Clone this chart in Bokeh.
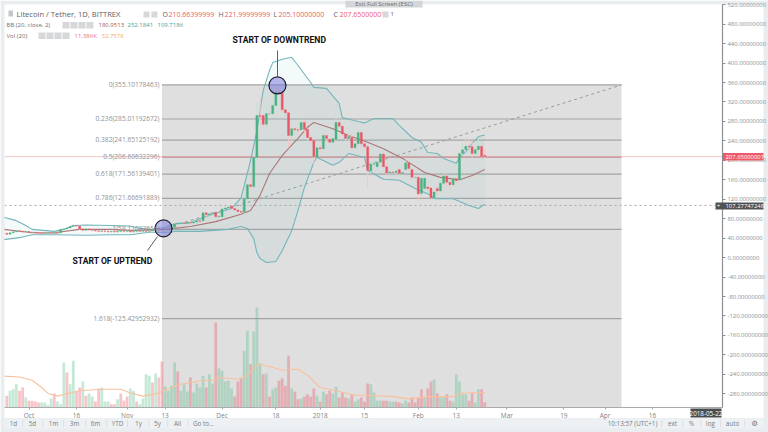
from bokeh.plotting import figure
from bokeh.embed import file_html
from bokeh.resources import INLINE
from bokeh.models import (Range1d, LinearAxis, FixedTicker, SingleIntervalTicker, NumeralTickFormatter,
                          Label, BoxAnnotation, ColumnDataSource)

# ---------- values ----------
START_DAY = -7  # days after 1 Oct 2017 of the first bar
OPEN = [50,48,51,53,55,54,53,53.5,52,52.5,
        51,50,49.5,50,50.5,50,50.5,51,58,59,
        61,64,66,65,59,56,59,57,56,55,
        54,55,54,53,54,53,54,55,54,55,
        53,54,55,54,55,54,55,58,60,59,
        57,58,58,62,69,70,71,70,72,71,
        73,76,76,92,88,90,93,84,84,100,
        102,106,101,98,95,93,121,150,146,206,
        292,292,274,296,296,313,340,338,304,298,
        251,265,263,263,278,264,247,241,206,226,
        224,251,243,237,243,278,270,254,245,247,
        226,234,257,234,228,178,192,187,196,213,
        187,174,176,175,181,173,181,195,181,165,
        165,132,142,145,143,123,142,137,153,168,
        155,150,162,160,214,222,229,228,214,222,
        229,210.66]
CLOSE = [48,51,53,55,54,53,53.5,52,52.5,51,
         50,49.5,50,50.5,50,50.5,50,58,59,61,
         64,66,65,59,56,59,57,56,55,54,
         55,54,53,54,53,54,55,54,55,53,
         54,55,54,55,54,55,58,60,59,57,
         58,57,62,69,70,71,70,72,71,73,
         76,75,92,88,90,92,84,85,100,102,
         104,101,98,95,93,121,150,146,206,292,
         290,274,296,296,313,340,338,304,298,251,
         265,263,262,278,264,247,241,208,226,224,
         251,245,237,245,278,270,254,245,249,226,
         234,257,234,228,179,192,193,196,213,187,
         174,176,175,178,173,175,195,183,165,165,
         131,163,163,142,123,135,137,153,168,155,
         150,162,158,214,222,229,228,214,222,229,
         208,207.65]
HIGH = [51,52,55,57,56,55,55,54,54,53,
        52,51,51,52,52,52,52,60,61,63,
        66,68,67,66,60,60,60,58,57,56,
        57,56,56,56,55,56,57,57,57,56,
        56,57,56,57,56,57,60,62,62,61,
        60,60,64,71,72,73,73,74,74,75,
        78,78,96,94,93,95,94,87,102,106,
        107,108,103,99,97,125,152,160,215,320,
        330,296,320,310,330,350,355,340,306,300,
        272,268,268,285,282,266,250,243,228,232,
        256,255,246,248,295,285,272,257,254,250,
        238,262,264,236,232,198,197,200,220,222,
        192,180,179,180,184,178,200,198,184,170,
        170,168,170,150,148,140,148,158,175,172,
        160,165,168,216,235,245,245,240,230,245,
        240,222]
LOW = [46,47,50,52,52,51,51,51,51,49,
       48,48,48,48,48,48,48,50,56,58,
       60,63,62,57,54,55,55,54,53,52,
       52,52,51,51,51,51,52,52,52,51,
       51,52,52,52,52,52,54,56,57,54,
       55,55,56,60,67,68,68,68,69,69,
       71,73,74,84,85,87,82,82,82,98,
       100,99,96,93,90,90,118,140,142,200,
       270,260,268,290,290,310,335,300,290,225,
       240,258,255,258,255,240,235,190,200,215,
       220,240,232,232,240,265,250,240,240,222,
       222,232,225,222,142,172,187,180,190,180,
       170,170,172,170,168,170,178,178,160,160,
       115,125,138,135,118,120,130,132,150,148,
       140,145,150,155,210,218,222,205,208,218,
       200,205]
VOLUME_K = [26,37,40,51,37,44,22,15,15,13,
            11,11,11,5.5,20,31,13,7,99,77,
            51,103,37,44,57,26,31,24,13,42,
            44,13,13,7,7,18,31,15,24,42,
            37,13,7,20,73,70,55,75,66,101,
            46,37,48,99,79,37,51,35,66,33,
            53,44,70,44,73,53,187,86,81,57,
            59,42,24,57,64,125,169,95,167,220,
            97,
            73,75,24,40,44,59,64,48,114,42,
            35,18,20,24,29,24,42,26,13,35,
            29,37,31,46,22,33,22,20,29,13,
            18,22,13,53,51,33,15,15,15,15,
            13,13,13,11,9,15,11,22,11,22,
            40,22,42,57,62,31,22,22,29,15,
            13,73,57,29,29,15,31,11,40,40,11.386]
VOLUME_DIR = ("rgggrrgrrr" "rggggrgggr" "ggrrgrggrr" "gggrrgrrrg"
              "grggggrgrr" "ggggrgggrg" "gggrggrggg" "ggrrrggrgg" "g"
              "rgrggrrrrg" "rrgrrrrgrg" "rrggrrrgrg" "grrrggggrr"
              "ggrrggrrrr" "rgrrgrggrr" "gggggrrggrr")

BB_UP_DAY = [-8,-4,-1,1,8,11,14,18,26,32,35,39,43,46,51,54,59,64,67,68,70,72,73,74,76,77,80,83,85,89,90,94,98,99,104,106,109,115,117,121,124,126,129,131,135,136,139,140,142,144]
BB_UPPER = [83,76,66,58,54,58,66,67,66,65,60,58,62,70,72,80,91,101,123,148,200,260,302,344,385,401,408,412,395,360,350,348,317,288,280,277,286,286,272,247,237,216,214,204,194,206,224,235,249,252.18]
BB_LO_DAY = [-8,-3,1,8,18,26,32,38,45,46,54,63,67,69,71,72,73,75,78,80,83,85,87,90,91,96,98,101,106,107,112,117,122,127,128,134,139,142,144]
BB_LOWER = [37,41,47,47,46,47,47,52,52,54,54,58,64,60,39,10,-2,-10,-8,14,55,97,144,196,206,190,196,214,206,179,161,159,142,128,121,121,107,101,109.72]
BB_MID_DAY = [-8,1,8,16,26,32,43,51,59,67,70,73,76,80,85,88,90,96,101,107,112,118,125,130,136,140,144]
BB_MID = [58,51,51,58,58,56,58,64,74,89,97,128,173,210,245,268,278,265,251,237,224,204,175,165,160,169,180.95]
VMA_DAY = [-8,-3,1,4,6,9,13,16,23,29,32,36,41,45,48,54,58,60,66,69,72,73,76,80,85,88,92,97,103,107,115,120,126,134,137,144]
VMA_K = [69,67,60,44,31,25,32,37,40,40,32,25,32,44,51,59,60,66,62,71,93,95,90,82,84,71,44,37,27,27,24,19,24,24,32,32.757]

FIB_RATIO = [0, 0.236, 0.382, 0.5, 0.618, 0.786, 1, 1.618]
FIB_PRICE = [355.10178463, 285.01192672, 241.65125192, 206.60632296, 171.56139401, 121.66691889, 58.11087654, -125.42952932]
FIB_TEXT = ["0(355.10178463)", "0.236(285.01192672)", "0.382(241.65125192)", "0.5(206.60632296)",
            "0.618(171.56139401)", "0.786(121.66691889)", "1(58.11087654)", "1.618(-125.42952932)"]
TICK_DAYS = [0, 15, 31, 43, 61, 78, 92, 106, 123, 135, 151, 169, 182, 197]
TICK_LABELS = ["Oct", "16", "Nov", "13", "Dec", "18", "2018", "15", "Feb", "13", "Mar", "19", "Apr", "16"]
LAST_PRICE = 207.65000001
CROSS_PRICE = 107.27747248
FIB_START_DAY, FIB_END_DAY = 42.0, 187.2
CIRCLE_DAY, CIRCLE_PRICE = [42.5, 78.5], [60, 354]

# ---------- picture pixel -> data helpers ----------
W, H = 768, 432
CHART_L, CHART_T, CHART_R, CHART_B = 4, 4, 722, 407
def X(px): return (px - 28.5) / 3.165
def Y(py): return (257.1 - py) / 0.4863

FONT = "Open Sans"
GREEN, RED = "#48b280", "#ea5564"
TEAL, BROWN = "#72b6bb", "#ac7676"
OUTER = "#e9edf0"

# the frame fills the canvas; the axes sit at fixed locations inside it
p = figure(width=W, height=H, output_backend="svg", toolbar_location=None,
           x_range=Range1d(X(0), X(W)), y_range=Range1d(Y(H), Y(0)),
           x_axis_type=None, y_axis_type=None,
           min_border=0, outline_line_color=None,
           border_fill_color=OUTER, background_fill_color="#ffffff")
p.extra_y_ranges["vol"] = Range1d((H - CHART_B) * -2.2, CHART_B * 2.2)

y_ax = LinearAxis(fixed_location=X(CHART_R), bounds=(Y(CHART_B), Y(CHART_T)))
y_ax.ticker = SingleIntervalTicker(interval=40)
y_ax.formatter = NumeralTickFormatter(format="0.00000000")
y_ax.major_label_text_font = FONT
y_ax.major_label_text_font_size = "5.9px"
y_ax.major_label_text_color = "#8a8e94"
y_ax.major_tick_out = 3; y_ax.major_tick_in = 0; y_ax.minor_tick_line_color = None
y_ax.major_label_standoff = 1
y_ax.axis_line_color = "#8d8f92"; y_ax.axis_line_width = 1.2; y_ax.major_tick_line_color = "#8d8f92"
p.add_layout(y_ax, "right")

x_ax = LinearAxis(fixed_location=Y(CHART_B), bounds=(X(CHART_L), X(CHART_R)))
x_ax.ticker = FixedTicker(ticks=TICK_DAYS)
x_ax.major_label_overrides = dict(zip(TICK_DAYS, TICK_LABELS))
x_ax.major_label_text_font = FONT
x_ax.major_label_text_font_size = "6.5px"
x_ax.major_label_text_color = "#7f8389"
x_ax.major_tick_out = 2; x_ax.major_tick_in = 0; x_ax.minor_tick_line_color = None
x_ax.major_label_standoff = 1
x_ax.axis_line_color = "#a9abad"; x_ax.axis_line_width = 1.2; x_ax.major_tick_line_color = "#a9abad"
p.add_layout(x_ax, "below")

p.xgrid.ticker = FixedTicker(ticks=TICK_DAYS)
p.ygrid.ticker = SingleIntervalTicker(interval=40)
p.xgrid.grid_line_color = "#ebf1f7"
p.ygrid.grid_line_color = "#ebf1f7"

# Fibonacci background and levels
p.quad(left=[FIB_START_DAY], right=[FIB_END_DAY], top=[FIB_PRICE[0]], bottom=[Y(CHART_B)],
       fill_color="#808080", fill_alpha=0.25, line_color=None)
p.line([X(CHART_L), X(CHART_R)], [LAST_PRICE, LAST_PRICE], line_color="#f5c3c7", line_width=1)
p.line([X(CHART_L), X(715)], [CROSS_PRICE, CROSS_PRICE], line_color="#a8a8a8", line_width=1, line_dash=[2, 3])
for r, v in zip(FIB_RATIO, FIB_PRICE):
    p.line([FIB_START_DAY, FIB_END_DAY], [v, v], line_color="#c08d90" if r == 0.5 else "#a4a4a4", line_width=1.2)
p.line([FIB_START_DAY, FIB_END_DAY], [FIB_PRICE[6], FIB_PRICE[0]], line_color="#9a9a9a",
       line_width=1, line_dash=[3, 3])

# volume
days = [START_DAY + i for i in range(len(OPEN))]
vol_src = ColumnDataSource(dict(x=days, top=VOLUME_K,
                                c=["#53b987" if d == "g" else "#eb4d5c" for d in VOLUME_DIR]))
p.vbar(x="x", top="top", bottom=0, width=0.88, fill_color="c", fill_alpha=0.33, line_color=None,
       source=vol_src, y_range_name="vol")
p.line(VMA_DAY, VMA_K, line_color="#f8c19b", line_width=1.1, y_range_name="vol")

# Bollinger bands
p.patch(BB_UP_DAY + BB_LO_DAY[::-1], BB_UPPER + BB_LOWER[::-1], fill_color=TEAL, fill_alpha=0.08, line_color=None)
p.line(BB_UP_DAY, BB_UPPER, line_color=TEAL, line_width=1.1)
p.line(BB_LO_DAY, BB_LOWER, line_color=TEAL, line_width=1.1)
p.line(BB_MID_DAY, BB_MID, line_color=BROWN, line_width=1.1)

# candles
up = [c >= o for o, c in zip(OPEN, CLOSE)]
src = ColumnDataSource(dict(x=days, o=OPEN, c=CLOSE, h=HIGH, l=LOW,
                            body=[GREEN if u else RED for u in up],
                            wick=["#c4e0d1" if u else "#f4c6ca" for u in up]))
p.segment(x0="x", x1="x", y0="l", y1="h", line_color="wick", line_width=1, source=src)
p.vbar(x="x", top="o", bottom="c", width=0.66, fill_color="body", line_color="body", line_width=0.3, source=src)

# callouts
p.line([X(277), X(277)], [Y(50), Y(76)], line_color="#606060", line_width=1)
p.line([X(157), X(147)], [Y(236), Y(250)], line_color="#606060", line_width=1)
p.scatter(CIRCLE_DAY, CIRCLE_PRICE, size=17, marker="circle", fill_color="#7474dc", fill_alpha=0.5,
          line_color="#1c1c2c", line_width=1.2)


# page furniture around the chart (below the axes, above the grid)
def panel(x0, y0, x1, y1, color):
    p.quad(left=[X(x0)], right=[X(x1)], top=[Y(y0)], bottom=[Y(y1)], fill_color=color, line_color=None)


panel(CHART_R, CHART_T, 763, 417.5, "#ffffff")
panel(CHART_L, CHART_B, CHART_R, 417.5, "#ffffff")
panel(0, 0, W, CHART_T, OUTER)
panel(0, 0, CHART_L, H, OUTER)
panel(763, 0, W, H, OUTER)
panel(0, 417.5, W, H, OUTER)
panel(CHART_L, 418, 763, 428, "#eef1f3")


def box(x0, y0, x1, y1, color):
    p.add_layout(BoxAnnotation(left=x0, right=x1, top=H - y0, bottom=H - y1,
                               left_units="screen", right_units="screen", top_units="screen", bottom_units="screen",
                               fill_color=color, fill_alpha=1, line_color=None, level="overlay"))


def text(px, py, s, size=6.5, color="#777b80", align="left", font=FONT, style="normal"):
    p.add_layout(Label(x=px, y=H - py, x_units="screen", y_units="screen", text=s,
                       text_font=font, text_font_size=f"{size}px", text_color=color, text_align=align,
                       text_baseline="middle", text_font_style=style, level="overlay"))


for v, t in zip(FIB_PRICE, FIB_TEXT):
    text(159, 257.1 - 0.4863 * v - 0.5, t, size=6.6, color="#8f9296", align="right")

text(232, 39, "START OF DOWNTREND", size=8.6, color="#111111", font="Roboto", style="bold")
text(72, 260, "START OF UPTREND", size=8.6, color="#111111", font="Roboto", style="bold")

# header
box(345, 0, 422, 7, "#d4d6d8")
text(383.5, 3.5, "Exit Full Screen (ESC)", size=6, color="#6d7076", align="center")
box(8, 10, 12.5, 16, "#c4c7ca")
text(16, 13.5, "Litecoin / Tether, 1D, BITTREX", size=7.6, color="#5d6066")
for x0 in (143, 151):
    box(x0, 11, x0 + 6, 17, "#d6d8da")
text(162, 13.5, "O", size=7, color="#5d6066")
text(168, 13.5, "210.66399999", size=7, color="#ea5d6b")
text(218, 13.5, "H", size=7, color="#5d6066")
text(224, 13.5, "221.99999999", size=7, color="#ea5d6b")
text(273, 13.5, "L", size=7, color="#5d6066")
text(278, 13.5, "205.10000000", size=7, color="#ea5d6b")
text(333, 13.5, "C", size=7, color="#5d6066")
text(339, 13.5, "207.65000001", size=7, color="#ea5d6b")
box(382, 11, 388, 17, "#d6d8da")
text(390, 13.5, "1", size=6, color="#5d6066")
text(6, 24.5, "BB (20, close, 2)", size=6, color="#6d7076")
for x0 in (62, 70, 78, 86):
    box(x0, 21.5, x0 + 7, 28, "#d6d8da")
text(98, 24.5, "180.9513", size=6, color="#a25a5a")
text(127, 24.5, "252.1841", size=6, color="#3f9ca0")
text(157, 24.5, "109.7186", size=6, color="#3f9ca0")
text(6, 35, "Vol (20)", size=6, color="#6d7076")
for x0 in (38, 46, 54, 62):
    box(x0, 32, x0 + 7, 38.5, "#d6d8da")
text(74, 35, "11.386K", size=6, color="#ee6f7b")
text(101, 35, "32.757K", size=6, color="#f4a869")

# price and date tags
box(722.5, 152.5, 763, 160, "#ee5a6b")
text(725, 156.3, "207.65000001", size=5.9, color="#ffffff")
box(715, 202, 763, 209, "#4f5255")
text(718, 205.5, "+", size=6, color="#ffffff", align="center")
text(725, 205.5, "107.27747248", size=5.9, color="#ffffff")
box(690, 408, 721, 417, "#4a4d50")
text(705.5, 412.5, "2018-05-22", size=6.3, color="#ffffff", align="center")

# bottom bar
for px, s in zip([13, 32, 53, 74, 95, 117, 138, 157, 177, 203],
                 ["1d", "5d", "1m", "3m", "6m", "YTD", "1y", "5y", "All", "Go to..."]):
    text(px, 423, s, size=6.3, color="#777b80", align="center")
for px in (22, 42, 63, 85, 106, 127, 148, 167, 187):
    box(px, 419.5, px + 0.6, 426.5, "#cfd2d6")
text(632, 423, "10:13:57 (UTC+1)", size=6.3, color="#777b80", align="center")
for px, s in zip([672, 691, 710, 732], ["ext", "%", "log", "auto"]):
    text(px, 423, s, size=6.3, color="#777b80", align="center")
for px in (661, 682, 700, 720, 744):
    box(px, 419.5, px + 0.6, 426.5, "#cfd2d6")
text(754, 423, "\u2699", size=7.5, color="#777b80", align="center", font="DejaVu Sans")

assert len(OPEN) == len(CLOSE) == len(HIGH) == len(LOW) == len(VOLUME_K) == len(VOLUME_DIR), (
    len(OPEN), len(CLOSE), len(HIGH), len(LOW), len(VOLUME_K), len(VOLUME_DIR))
open("out.html", "w").write(file_html(p, INLINE))
